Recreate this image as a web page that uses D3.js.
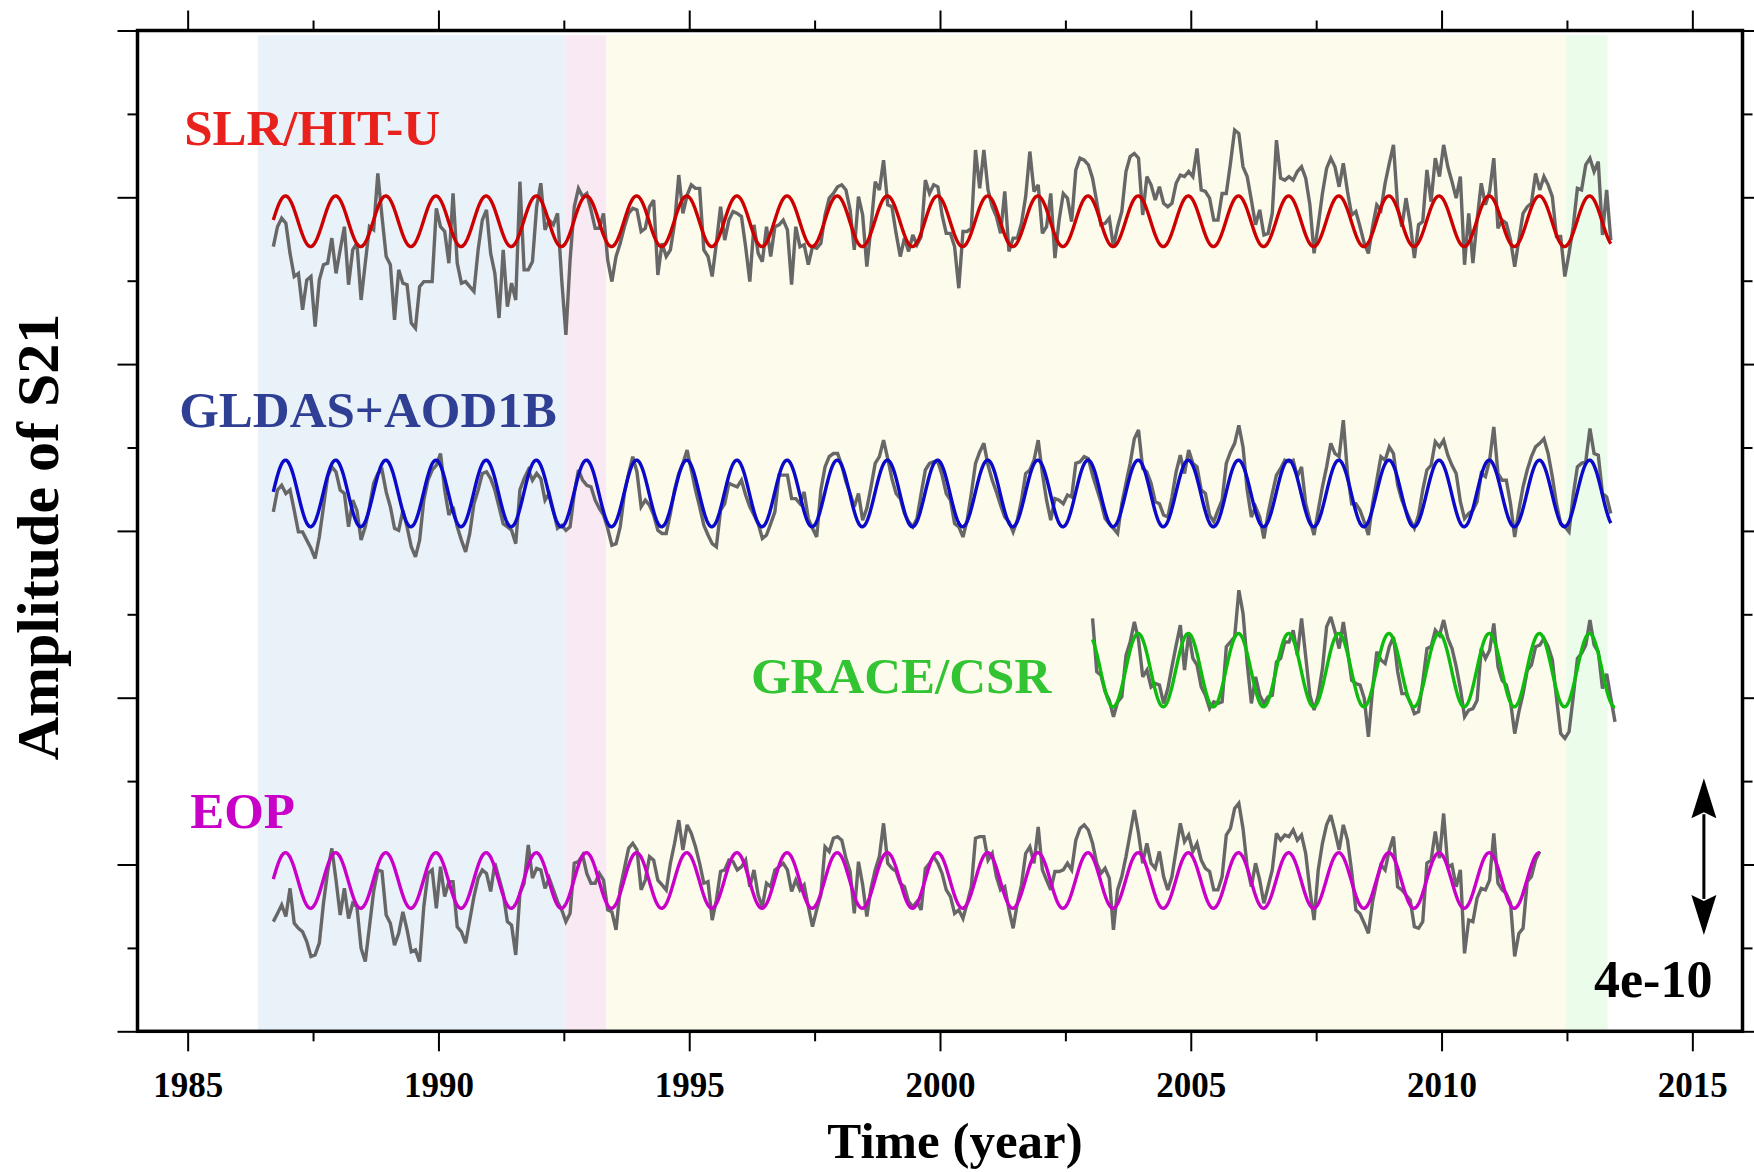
<!DOCTYPE html>
<html>
<head>
<meta charset="utf-8">
<script src="https://cdn.jsdelivr.net/npm/d3@7"></script>
<style>
  html, body { margin: 0; padding: 0; background: #ffffff; }
  svg { display: block; }
  text { font-family: "Liberation Serif", "Times New Roman", serif; font-weight: bold; }
</style>
</head>
<body>
<svg id="chart" width="1754" height="1172"></svg>
<script>
// Monthly S21 anomalies, units of 1e-11, one row per calendar year.
const seriesNames = ["SLR/HIT-U", "GLDAS+AOD1B", "GRACE/CSR", "EOP"];
const seriesStart = [1986.708, 1986.708, 2003.042, 1986.708];   // mid-month of first sample
const seriesOffset = [206.8, 137.3, 92.2, 38.5];                 // vertical stacking offset
const fitAmplitude = [6.46, 8.5, 9.36, 7.09];                    // annual fit amplitude
const fitPeakPhase = [0.95, 0.95, 0.95, 0.95];                   // fraction of year at maximum

const slrValues = [
  -6.5, -1.4, 0.8, -0.5,
  -8.2, -14.1, -13.3, -22.6, -15.0, -14.1, -26.9, -15.0, -11.1, -10.7, -4.3, -13.3,
  -7.3, -1.4, -16.2, -7.3, -5.6, -20.1, -10.7, -1.4, -2.2, 12.2, 1.2, -9.0,
  -11.1, -25.2, -12.4, -15.8, -16.2, -26.0, -27.3, -16.7, -15.4, -15.4, -15.4, 3.3,
  -1.4, -2.6, -10.7, 7.1, -10.7, -15.8, -15.4, -16.7, -17.9, -7.3, 0.3, 2.9,
  -8.2, -13.3, -24.7, -7.3, -21.8, -15.8, -20.1, 10.1, -12.4, -12.4, -10.3, 3.7,
  9.7, -2.2, 0.3, -0.9, 2.0, -15.0, -29.0, -9.9, 3.7, 8.4, 6.3, 7.1,
  2.9, -1.8, -1.8, 2.0, -9.9, -15.4, -9.0, -5.6, -1.4, 2.0, 3.3, 2.9,
  -2.6, -1.8, 3.7, 5.4, -13.7, -5.6, -9.0, -7.3, -0.5, 11.8, 2.0, 6.7,
  9.3, 8.4, 8.4, -7.3, -9.0, -14.1, -5.6, 3.7, -4.8, 0.3, 2.5, 2.0,
  1.2, -6.5, -15.4, -0.9, -8.2, -10.3, -1.4, -9.0, -1.4, -0.9, 0.3, -2.2,
  -16.2, -1.4, -6.5, -6.0, -11.1, -6.5, -6.9, -5.6, 1.6, 5.9, 7.1, 8.8,
  9.3, 8.0, 2.9, -7.3, 6.3, 1.6, -11.6, -1.4, 10.1, 8.0, 15.6, 4.2,
  3.7, -3.1, -9.0, -4.3, -7.7, -3.5, -6.0, -3.9, 10.5, 7.1, 9.3, 8.8,
  1.6, -3.1, -3.1, -6.5, -17.1, -2.6, -2.6, -1.8, 18.2, 8.4, 18.2, 8.0,
  3.7, 1.2, -3.1, 7.6, -7.7, -4.3, -4.3, -0.5, 6.3, 17.8, 7.6, 9.3,
  -3.1, -1.4, 7.1, -9.4, 0.3, 7.1, 5.9, -0.1, 13.1, 16.1, 15.6, 14.4,
  11.0, 5.0, -0.9, -0.5, 0.8, -6.5, -1.4, 2.5, 12.7, 16.5, 17.3, 16.1,
  1.6, 11.4, 9.3, 5.4, 8.8, 4.6, 3.7, 4.6, 9.7, 11.8, 11.4, 12.7,
  11.4, 18.6, 8.0, 7.6, 5.9, 0.3, 0.3, 7.1, 7.1, 14.8, 23.3, 22.4,
  13.9, 11.4, 5.4, -0.9, 2.9, -3.5, -3.1, 2.0, 20.7, 11.0, 10.5, 11.4,
  10.5, 12.7, 13.9, 11.0, 4.2, -8.2, -0.9, 7.1, 13.5, 16.1, 13.9, 8.8,
  14.8, 7.6, 1.6, 2.5, -1.4, -5.6, -8.2, -1.4, 4.2, 2.9, 9.7, 14.8,
  19.5, 3.7, -1.4, 5.9, -0.5, -9.4, -0.9, -0.1, 13.1, 5.0, 16.1, 11.4,
  19.5, 13.9, 10.1, 5.9, 11.4, -11.1, 2.0, -10.7, 0.3, 9.7, 4.2, 7.6,
  16.1, -1.8, 0.3, -0.5, -4.8, -11.6, -4.8, 2.0, 3.7, 4.6, 12.2, 8.0,
  11.4, 9.3, 6.3, -3.9, -3.9, -14.1, -8.2, -1.4, 8.4, 8.0, 14.4, 16.1,
  12.7, 15.2, -3.5, 8.0, -4.8
];

const gldasValues = [
  -4.7, 0.9, 2.1, 0,
  0.9, -4.3, -9.8, -9.8, -11.9, -14.0, -16.6, -11.1, -3.4, 4.3, 6.8, 5.5,
  0.9, 0, -8.5, -1.7, -4.3, -11.9, -8.5, -3.4, 2.6, 5.1, 6.0, 0.4,
  -3.4, -8.9, -9.4, -4.3, -8.5, -13.6, -16.2, -11.9, -1.7, 3.4, 6.0, 7.2,
  10.2, 0.9, -5.5, -3.4, -8.5, -11.9, -14.9, -10.2, -2.6, 0.9, 5.1, 5.5,
  3.8, 0.9, -3.4, -7.7, -8.5, -9.4, -12.8, 0.9, 3.8, 6.0, 3.4, 5.1,
  3.8, -1.7, 0, -4.3, -8.9, -8.1, -9.4, -8.5, 0, 6.0, 3.4, 2.1,
  1.7, -1.7, -3.8, -5.5, -8.9, -13.2, -12.8, -8.5, 0, 5.1, 9.4, 5.5,
  -3.4, -1.7, -3.0, -5.5, -9.4, -10.2, -10.2, -5.1, 0.9, 5.1, 7.7, 11.1,
  6.0, 0.9, -3.4, -8.1, -10.6, -12.8, -13.6, -4.3, -2.6, 2.6, 2.1, 1.7,
  3.4, -0.4, -3.4, -5.5, -7.7, -11.5, -10.6, -7.7, -4.7, 4.7, 4.7, 4.7,
  -1.3, -1.3, -2.6, 0.4, -6.4, -8.9, -11.1, 0.9, 6.8, 9.4, 10.2, 10.2,
  7.2, 3.0, 0, -3.4, 0, -6.8, -3.8, 1.7, 7.7, 9.4, 13.6, 8.9,
  3.8, 0, -1.3, -5.1, -7.2, -8.5, -6.4, 0, 6.0, 7.7, 8.1, 8.1,
  4.7, 0, -1.7, -7.7, -8.5, -11.1, -6.8, 0, 7.7, 10.6, 12.8, 7.2,
  3.4, 0.4, -3.0, -6.0, -7.2, -9.8, -6.8, -1.7, 5.1, 6.0, 8.5, 13.6,
  5.1, -1.7, -6.8, -1.3, -1.7, -2.6, -0.4, -0.9, 7.7, 8.1, 9.4, 8.9,
  4.7, 1.3, -2.1, -6.4, -7.7, -8.9, -10.2, -2.6, 2.6, 7.7, 14.0, 16.2,
  6.4, 5.5, 2.6, -2.1, -2.6, -5.5, -6.0, -0.9, 5.5, 9.8, 5.1, 11.1,
  7.7, 6.8, 0.9, 0, -5.5, -7.2, -4.3, -1.7, 7.7, 10.6, 12.8, 17.4,
  11.9, 0.9, -6.0, -3.4, -6.0, -11.5, -5.1, 0, 4.7, 6.4, 8.5, 8.1,
  8.5, 4.3, 6.8, -2.6, -6.8, -10.6, -4.3, 1.7, 6.8, 12.8, 10.2, 9.4,
  18.7, 5.1, -2.6, -2.6, -4.3, -7.2, -10.6, -2.6, 3.4, 9.4, 8.5, 11.9,
  10.2, 2.1, -1.7, -4.3, -6.8, -8.9, -5.5, 0.9, 6.0, 7.2, 13.2, 11.9,
  13.6, 9.8, 7.2, 5.1, -2.1, -6.4, -5.1, -4.3, -2.1, 5.1, 4.3, 8.5,
  17.0, 5.1, 3.4, 3.4, -2.6, -11.1, -4.3, 1.7, 6.0, 9.4, 11.9, 12.8,
  14.0, 10.2, 4.3, -2.6, -7.7, -8.5, -9.8, -0.4, 6.8, 7.7, 8.1, 16.6,
  10.2, 9.8, 0, -0.9, -5.1
];

const graceValues = [
  13.2, -0.4, -1.3, -5.5, -7.7, -11.9, -8.1, -6.8, 3.8, 7.2, 12.3, 7.7,
  -1.7, 0, -4.3, -3.4, -3.8, -8.5, -4.7, 0.9, 6.4, 11.5, 0, 9.4,
  3.0, 1.3, -4.3, -6.4, -9.8, -8.1, -8.5, -8.1, 6.0, 7.2, 8.5, 20.4,
  14.5, 1.7, -8.5, -1.7, -6.4, -8.5, -6.8, -6.4, 2.1, 3.0, 7.2, 7.2,
  10.2, 3.8, 13.2, 3.4, -6.4, -10.2, -6.4, 0.4, 11.1, 13.6, 9.8, 5.5,
  12.3, 5.1, -2.6, -3.4, -3.8, -7.2, -17.0, -4.7, 4.7, 2.6, 1.7, 6.0,
  8.5, -0.4, -6.0, -6.0, -8.1, -11.1, -10.6, -3.0, 5.5, 6.0, 10.2, 8.9,
  12.8, 8.1, 5.5, 0.9, -4.7, -11.9, -10.2, -9.8, -7.7, 5.5, 3.0, 5.1,
  11.9, 0.9, -2.6, -3.8, -8.1, -16.2, -10.6, -6.0, 0, 1.3, 6.0, 6.4,
  8.1, 6.0, 2.6, -7.2, -16.2, -17.4, -15.7, -6.8, 3.0, 4.3, 6.4, 12.8,
  6.4, 4.7, -4.7, -0.9, -7.2, -13.2
];

const eopValues = [
  -10.5, -8.4, -6.2, -9.2,
  -2.0, -10.9, -12.2, -13.1, -15.6, -19.4, -19.0, -16.0, -5.8, 2.3, 8.2, 0.1,
  -8.8, -2.0, -9.7, -5.8, -6.7, -17.3, -20.7, -11.8, -2.8, 2.7, 2.3, -8.8,
  -10.9, -16.5, -13.5, -8.0, -12.6, -18.2, -17.7, -20.7, -6.7, 1.8, 2.7, -7.1,
  3.5, -4.1, -0.3, -0.3, -11.8, -13.1, -16.0, -10.1, -4.1, 0.6, 2.7, 1.8,
  -2.8, 4.4, 0.6, -3.3, -10.5, -11.4, -19.0, -3.3, -0.7, 9.1, 0.6, 3.1,
  2.7, -2.0, 0.6, -2.4, -5.4, -7.5, -10.5, -8.4, 4.4, 4.8, 6.5, 1.8,
  -0.7, -0.7, 1.8, 0.1, -7.5, -8.0, -12.6, -2.0, 3.1, 8.2, 9.5, 7.8,
  -2.4, 0.1, 6.1, 5.2, 0.1, -1.1, -2.4, 4.4, 9.5, 15.4, 7.8, 14.2,
  12.0, 8.6, 4.4, -0.7, -0.3, -10.1, -5.0, 2.3, 2.7, 5.2, 4.8, 2.7,
  3.5, 5.2, -1.6, 2.7, -3.7, -6.7, -0.7, -1.6, 2.7, 3.5, 4.4, 2.7,
  -2.8, 0.1, -2.4, -1.1, -6.7, -11.8, -7.5, -3.7, 8.6, 7.4, 10.8, 11.2,
  10.3, 5.7, 2.3, -8.4, 4.8, -1.1, -9.2, -2.0, 2.7, 6.1, 14.6, 4.4,
  3.1, 2.3, -0.7, -1.6, -5.4, -6.7, -5.4, -7.5, 3.1, 4.4, 6.1, 4.4,
  1.8, -2.4, -4.1, -8.4, -7.5, -9.7, -5.8, -1.6, 10.8, 11.2, 11.2, 5.2,
  6.9, 1.0, -2.4, -1.6, -7.5, -12.2, -5.8, -1.1, 6.9, 8.6, 4.4, 13.7,
  2.7, 0.1, -2.4, 2.3, 2.3, 2.7, 4.4, 2.7, 10.3, 13.3, 14.2, 12.9,
  9.5, 4.4, 1.8, 3.1, 0.6, -12.6, -2.4, 1.0, 6.1, 12.0, 18.0, 12.0,
  4.4, 9.5, 4.4, 3.1, 7.4, 1.0, -2.4, 1.0, 7.8, 14.6, 9.9, 11.6,
  7.4, 9.5, 5.2, 3.1, 2.3, -2.4, -2.4, 1.0, 11.6, 13.3, 18.4, 19.7,
  13.3, 3.5, -1.6, 4.4, 0.1, -5.8, -1.6, 2.7, 12.0, 10.3, 11.6, 11.2,
  12.9, 10.3, 11.6, 6.9, -2.4, -10.1, 2.7, 9.5, 14.2, 16.7, 12.5, 7.8,
  14.2, 10.3, 2.3, -7.5, -8.5, -10.9, -13.5, -5.4, -0.3, 4.0, 2.7, 7.8,
  11.2, -1.6, -2.4, -3.7, -5.0, -11.8, -12.2, -10.5, 4.4, 5.2, 12.5, 5.7,
  17.1, 3.5, 4.0, -1.6, 2.7, -18.6, -10.1, -10.5, -4.5, -2.0, -2.4, 0.1,
  12.0, -0.7, -2.4, -3.3, -5.8, -19.4, -13.5, -12.2, -0.3, 1.0, 5.2, 7.4
];

// Shaded observation periods [start, end] in decimal years
const periodSpans = [[1986.40, 1992.52], [1992.52, 1993.35], [1993.35, 2012.48], [2012.48, 2013.31]];

// Axis domains and ticks
const yearDomain = [1984, 2016];
const ampDomain = [0, 255.5];             // 1e-11
const yearTicksMajor = [1985, 1990, 1995, 2000, 2005, 2010, 2015];
const yearTicksMinor = [1987.5, 1992.5, 1997.5, 2002.5, 2007.5, 2012.5];
const ampTickCount = 12;                   // intervals incl. minor ticks

// Scale bar: 4e-10 expressed in 1e-11
const scaleBarLength = 40;
const scaleBarText = "4e-10";

// ---- layout & styles ----
const W = 1754, H = 1172;
const plot = { left: 137.5, right: 1742.5, top: 30.5, bottom: 1031.3 };
const seriesColor = ["#cc0000", "#0a0ac8", "#10bb10", "#c800c8"];
const labelColor  = ["#e8211d", "#2f3f94", "#33c433", "#c800c8"];
const labelAnchor = [[1984.93, 226.3], [1984.83, 154.3], [1996.23, 86.3], [1985.05, 51.8]];
const shadeColor  = ["#e9f1f9", "#f9e9f2", "#fcfbec", "#ebfceb"];
const shadeTop = 254.3;
const scaleBarYear = 2015.23, scaleBarBase = 24.6;

const svg = d3.select("#chart");
svg.append("rect").attr("width", W).attr("height", H).attr("fill", "#ffffff");

const x = d3.scaleLinear().domain(yearDomain).range([plot.left, plot.right]);
const y = d3.scaleLinear().domain(ampDomain).range([plot.bottom, plot.top]);

// Shaded periods
svg.append("g").selectAll("rect").data(periodSpans).join("rect")
  .attr("x", d => x(d[0]))
  .attr("width", d => x(d[1]) - x(d[0]))
  .attr("y", y(shadeTop))
  .attr("height", y(ampDomain[0]) - y(shadeTop))
  .attr("fill", (d, i) => shadeColor[i]);

// Series records
const rawSeries = [slrValues, gldasValues, graceValues, eopValues];
const series = rawSeries.map((vals, s) => ({
  points: vals.map((v, i) => ({ t: seriesStart[s] + i / 12, v: seriesOffset[s] + v })),
  start: seriesStart[s],
  end: seriesStart[s] + (vals.length - 1) / 12,
  s
}));

const line = d3.line().x(d => x(d.t)).y(d => y(d.v));

// Observed monthly series (gray)
svg.append("g").selectAll("path").data(series).join("path")
  .attr("d", d => line(d.points))
  .attr("fill", "none")
  .attr("stroke", "#676767")
  .attr("stroke-width", 3.4)
  .attr("stroke-linejoin", "miter")
  .attr("stroke-miterlimit", 3);

// Annual fits
function fitCurve(d) {
  const pts = [];
  const steps = Math.round((d.end - d.start) * 96);
  for (let k = 0; k <= steps; k++) {
    const t = d.start + (d.end - d.start) * k / steps;
    pts.push({ t, v: seriesOffset[d.s] + fitAmplitude[d.s] * Math.cos(2 * Math.PI * (t - fitPeakPhase[d.s])) });
  }
  return pts;
}
svg.append("g").selectAll("path").data(series).join("path")
  .attr("d", d => line(fitCurve(d)))
  .attr("fill", "none")
  .attr("stroke", d => seriesColor[d.s])
  .attr("stroke-width", 3.4);

// Series labels
svg.append("g").selectAll("text").data(seriesNames).join("text")
  .attr("x", (d, i) => x(labelAnchor[i][0]))
  .attr("y", (d, i) => y(labelAnchor[i][1]))
  .attr("fill", (d, i) => labelColor[i])
  .style("font-size", "51px")
  .text(d => d);

// Axes
const ampStep = (ampDomain[1] - ampDomain[0]) / ampTickCount;
const ampTicks = d3.range(ampTickCount + 1).map(k => ampDomain[0] + k * ampStep);
const ampMajor = ampTicks.filter((d, k) => k % 2 === 0);
const ampMinor = ampTicks.filter((d, k) => k % 2 === 1);

function styleAxis(g) {
  g.select(".domain").remove();
  g.selectAll(".tick line").attr("stroke", "#000").attr("stroke-width", 2);
}

svg.append("g").attr("transform", `translate(0,${plot.bottom})`)
  .call(d3.axisBottom(x).tickValues(yearTicksMajor).tickSize(20).tickPadding(21).tickFormat(d3.format("d")))
  .call(styleAxis)
  .call(g => g.selectAll("text")
    .style("font-size", "35px")
    .style("font-family", '"Liberation Serif", "Times New Roman", serif')
    .style("font-weight", "bold")
    .attr("fill", "#000"));
svg.append("g").attr("transform", `translate(0,${plot.bottom})`)
  .call(d3.axisBottom(x).tickValues(yearTicksMinor).tickSize(10).tickFormat(""))
  .call(styleAxis);
svg.append("g").attr("transform", `translate(0,${plot.top})`)
  .call(d3.axisTop(x).tickValues(yearTicksMajor).tickSize(20).tickFormat(""))
  .call(styleAxis);
svg.append("g").attr("transform", `translate(0,${plot.top})`)
  .call(d3.axisTop(x).tickValues(yearTicksMinor).tickSize(10).tickFormat(""))
  .call(styleAxis);
svg.append("g").attr("transform", `translate(${plot.left},0)`)
  .call(d3.axisLeft(y).tickValues(ampMajor).tickSize(20).tickFormat(""))
  .call(styleAxis);
svg.append("g").attr("transform", `translate(${plot.left},0)`)
  .call(d3.axisLeft(y).tickValues(ampMinor).tickSize(10).tickFormat(""))
  .call(styleAxis);
svg.append("g").attr("transform", `translate(${plot.right},0)`)
  .call(d3.axisRight(y).tickValues(ampMajor).tickSize(20).tickFormat(""))
  .call(styleAxis);
svg.append("g").attr("transform", `translate(${plot.right},0)`)
  .call(d3.axisRight(y).tickValues(ampMinor).tickSize(10).tickFormat(""))
  .call(styleAxis);

// Frame
svg.append("rect")
  .attr("x", plot.left).attr("y", plot.top)
  .attr("width", plot.right - plot.left).attr("height", plot.bottom - plot.top)
  .attr("fill", "none").attr("stroke", "#000").attr("stroke-width", 3.5);

// Scale bar (double arrow)
const ax = x(scaleBarYear);
const yLow = y(scaleBarBase), yHigh = y(scaleBarBase + scaleBarLength);
const headLen = 40, headHalf = 12.5;
const bar = svg.append("g");
bar.append("line")
  .attr("x1", ax).attr("x2", ax)
  .attr("y1", yHigh + headLen - 4).attr("y2", yLow - headLen + 4)
  .attr("stroke", "#000").attr("stroke-width", 3);
bar.append("path")
  .attr("d", `M${ax},${yHigh} L${ax + headHalf},${yHigh + headLen} L${ax},${yHigh + headLen - 6} L${ax - headHalf},${yHigh + headLen} Z`)
  .attr("fill", "#000");
bar.append("path")
  .attr("d", `M${ax},${yLow} L${ax + headHalf},${yLow - headLen} L${ax},${yLow - headLen + 6} L${ax - headHalf},${yLow - headLen} Z`)
  .attr("fill", "#000");
bar.append("text")
  .attr("x", x(2015.40)).attr("y", y(8.8))
  .attr("text-anchor", "end")
  .attr("fill", "#000")
  .style("font-size", "52px")
  .text(scaleBarText);

// Axis titles
svg.append("text")
  .attr("x", 955).attr("y", 1158)
  .attr("text-anchor", "middle")
  .attr("fill", "#000")
  .style("font-size", "51px")
  .text("Time (year)");
svg.append("text")
  .attr("transform", "translate(58,537) rotate(-90)")
  .attr("text-anchor", "middle")
  .attr("fill", "#000")
  .style("font-size", "60px")
  .text("Amplitude of S21");
</script>
</body>
</html>
